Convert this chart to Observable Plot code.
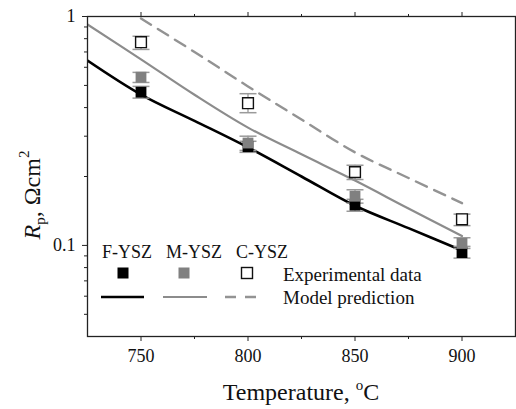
<!DOCTYPE html>
<html><head><meta charset="utf-8">
<script src="https://cdn.jsdelivr.net/npm/d3@7"></script>
<script src="https://cdn.jsdelivr.net/npm/@observablehq/plot@0.6"></script>
<style>
body{margin:0;background:#fff}
#chart{position:relative;width:516px;height:409px}
</style>
</head><body><div id="chart"></div>
<script>
// ---- data ----
const temperatures = [750, 800, 850, 900];
const seriesNames = ["F-YSZ", "M-YSZ", "C-YSZ"];
const fyszExp = [0.467, 0.27, 0.15, 0.093];
const fyszLo  = [0.44, 0.255, 0.141, 0.088];
const fyszHi  = [0.495, 0.285, 0.159, 0.099];
const myszExp = [0.543, 0.28, 0.164, 0.102];
const myszLo  = [0.515, 0.26, 0.153, 0.097];
const myszHi  = [0.57, 0.30, 0.175, 0.108];
const cyszExp = [0.772, 0.418, 0.209, 0.13];
const cyszLo  = [0.718, 0.38, 0.194, 0.122];
const cyszHi  = [0.82, 0.46, 0.224, 0.137];

const modelTempsFM = [725, 750, 775, 800, 825, 850, 875, 900];
const fyszModel = [0.642, 0.456, 0.35, 0.268, 0.2, 0.149, 0.119, 0.095];
const myszModel = [0.923, 0.65, 0.455, 0.327, 0.25, 0.192, 0.145, 0.11];
const modelTempsC = [750, 775, 800, 825, 850, 875, 900];
const cyszModel = [0.98, 0.7, 0.495, 0.355, 0.255, 0.197, 0.153];

const xTicks = [750, 800, 850, 900];
const xMinorTicks = [775, 825, 875];
const yTicks = [0.1, 1];
const yTickLabels = ["0.1", "1"];
const yMinorTicks = [0.05, 0.06, 0.07, 0.08, 0.09, 0.2, 0.3, 0.4, 0.5, 0.6, 0.7, 0.8, 0.9];

const legendExperimental = "Experimental data";
const legendModel = "Model prediction";
const xTitle = "Temperature, ";
const yTitle = ["R", "p", ", Ωcm", "2"];

// ---- styles ----
const styles = {
  "F-YSZ": {fill: "#000", stroke: "#000", line: "#000", width: 2.6, dash: null},
  "M-YSZ": {fill: "#808080", stroke: "#808080", line: "#8c8c8c", width: 2.2, dash: null},
  "C-YSZ": {fill: "#fff", stroke: "#111", line: "#939393", width: 2.4, dash: "12,8"}
};

// ---- tables ----
const expTable = [
  [seriesNames[0], fyszExp, fyszLo, fyszHi],
  [seriesNames[1], myszExp, myszLo, myszHi],
  [seriesNames[2], cyszExp, cyszLo, cyszHi]
].flatMap(([s, v, lo, hi]) => temperatures.map((t, i) => ({series: s, t, r: v[i], lo: lo[i], hi: hi[i]})));

const modelTable = [
  [seriesNames[0], modelTempsFM, fyszModel],
  [seriesNames[1], modelTempsFM, myszModel],
  [seriesNames[2], modelTempsC, cyszModel]
].flatMap(([s, ts, v]) => ts.map((t, i) => ({series: s, t, r: v[i]})));

const capSymbol = {draw(ctx) { const w = 8.5; ctx.moveTo(-w, 0); ctx.lineTo(w, 0); }};
const font = "'Liberation Serif', 'Times New Roman', serif";

const marks = [];
// model lines
for (const s of seriesNames) {
  marks.push(Plot.line(modelTable.filter(d => d.series === s), {
    x: "t", y: "r", stroke: styles[s].line, strokeWidth: styles[s].width,
    strokeDasharray: styles[s].dash, curve: "catmull-rom", clip: true
  }));
}
// error bars
marks.push(Plot.ruleX(expTable, {x: "t", y1: "lo", y2: "hi", stroke: "#9a9a9a", strokeWidth: 1.3}));
marks.push(Plot.dot(expTable, {x: "t", y: "lo", symbol: capSymbol, stroke: "#9a9a9a", strokeWidth: 1.5, r: 5}));
marks.push(Plot.dot(expTable, {x: "t", y: "hi", symbol: capSymbol, stroke: "#9a9a9a", strokeWidth: 1.5, r: 5}));
// experimental squares
for (const s of seriesNames) {
  marks.push(Plot.dot(expTable.filter(d => d.series === s), {
    x: "t", y: "r", symbol: "square", r: 6.1, fill: styles[s].fill,
    stroke: styles[s].stroke, strokeWidth: s === "C-YSZ" ? 1.4 : 0
  }));
}
// axes
marks.push(
  Plot.frame({stroke: "#222", strokeWidth: 1.3}),
  Plot.axisX({ticks: xTicks, tickSize: 5, tickPadding: 8, fontSize: 18, label: null, tickFormat: d => String(d), stroke: "#222"}),
  Plot.axisX({ticks: xMinorTicks, tickSize: 3, label: null, tickFormat: () => "", stroke: "#222"}),
  Plot.axisX({anchor: "top", ticks: xTicks, tickSize: 5, label: null, tickFormat: () => "", stroke: "#222"}),
  Plot.axisX({anchor: "top", ticks: xMinorTicks, tickSize: 3, label: null, tickFormat: () => "", stroke: "#222"}),
  Plot.axisY({ticks: yTicks, tickSize: 5, tickPadding: 7, fontSize: 18, label: null,
    tickFormat: d => yTickLabels[yTicks.indexOf(d)], stroke: "#222"}),
  Plot.axisY({ticks: yMinorTicks, tickSize: 3, label: null, tickFormat: () => "", stroke: "#222"})
);

const chart = Plot.plot({
  width: 516, height: 409,
  marginLeft: 87, marginTop: 16, marginRight: 1, marginBottom: 73,
  x: {domain: [725, 925]},
  y: {type: "log", domain: [0.04, 1]},
  style: {fontFamily: font, fontSize: "18px", color: "#111", background: "#fff"},
  marks
});
chart.setAttribute("font-family", font);
document.getElementById("chart").appendChild(chart);

// ---- titles and legend (drawn into the same SVG) ----
const svg = d3.select(chart);
const xt = svg.append("text").attr("x", 301).attr("y", 400).attr("text-anchor", "middle")
  .attr("font-family", font).attr("font-size", 24).attr("fill", "#111");
xt.append("tspan").text(xTitle);
xt.append("tspan").attr("font-size", 15).attr("dy", -10).text("o");
xt.append("tspan").attr("dy", 10).text("C");

const yt = svg.append("text").attr("transform", "translate(40,195) rotate(-90)").attr("text-anchor", "middle")
  .attr("font-family", font).attr("font-size", 24).attr("fill", "#111");
yt.append("tspan").attr("font-style", "italic").text(yTitle[0]);
yt.append("tspan").attr("font-size", 15).attr("dy", 5).text(yTitle[1]);
yt.append("tspan").attr("dy", -5).text(yTitle[2]);
yt.append("tspan").attr("font-size", 15).attr("dy", -11).text(yTitle[3]);

const lg = svg.append("g").attr("font-family", font).attr("fill", "#111");
const legendCols = [127, 194, 262];
const squareCols = [123, 184, 247];
const lineCols = [[101, 144], [163, 207], [225, 257]];
seriesNames.forEach((s, i) => {
  lg.append("text").attr("x", legendCols[i]).attr("y", 258).attr("text-anchor", "middle")
    .attr("font-size", 18).text(s);
  lg.append("rect").attr("x", squareCols[i] - 5.5).attr("y", 267.5).attr("width", 11).attr("height", 11)
    .attr("fill", styles[s].fill).attr("stroke", s === "C-YSZ" ? styles[s].stroke : "none").attr("stroke-width", 1.4);
  lg.append("line").attr("x1", lineCols[i][0]).attr("x2", lineCols[i][1]).attr("y1", 297).attr("y2", 297)
    .attr("stroke", styles[s].line).attr("stroke-width", styles[s].width)
    .attr("stroke-dasharray", styles[s].dash ? "11,9" : null);
});
lg.append("text").attr("x", 283).attr("y", 281).attr("text-anchor", "start").attr("font-size", 19).text(legendExperimental);
lg.append("text").attr("x", 283).attr("y", 304).attr("text-anchor", "start").attr("font-size", 19).text(legendModel);
</script>
</body></html>
